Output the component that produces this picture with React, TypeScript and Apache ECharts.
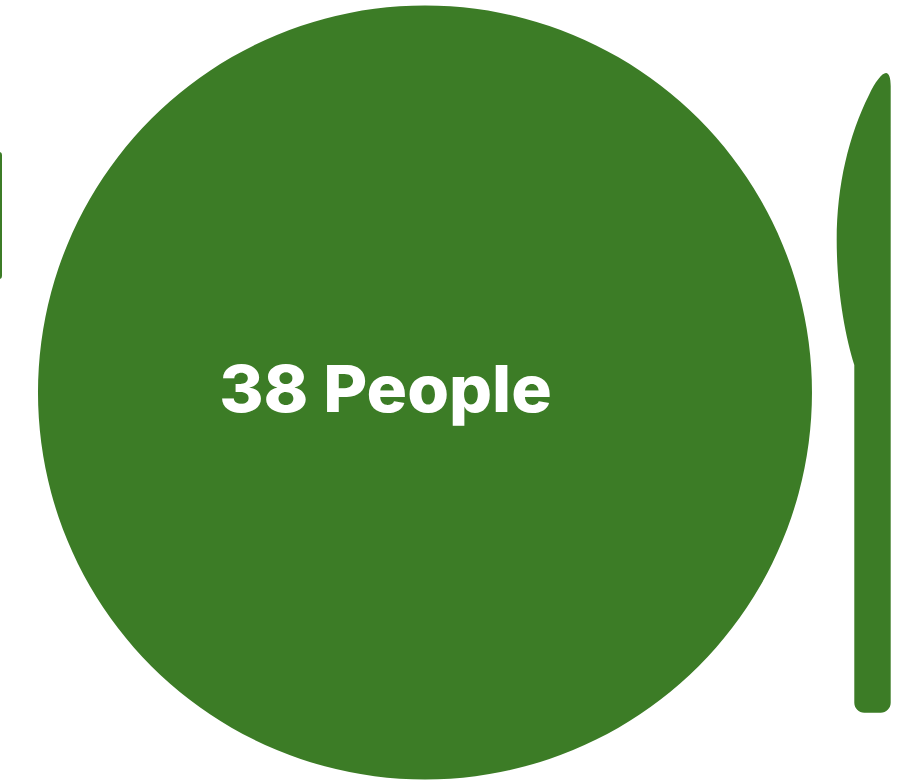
import React, { useEffect, useRef } from "react";
import * as echarts from "echarts";

const labels = ["People"];
const values = [38];
const GREEN = "#3c7c26";

const KNIFE =
  "M890.7 86 C890.7 78 889 73 886 73 C882 73 875 82 869 95 C849 135 836.7 185 836.7 240 C836.7 290 845 335 854.3 365 L854.3 702.7 C854.3 708.2 858.8 712.7 864.3 712.7 L880.7 712.7 C886.2 712.7 890.7 708.2 890.7 702.7 Z";

echarts.graphic.registerShape("knife", echarts.graphic.extendPath(KNIFE, {}));

export default function App() {
  const ref = useRef<HTMLDivElement>(null);
  useEffect(() => {
    if (!ref.current) return;
    const chart = echarts.init(ref.current, undefined, { renderer: "svg" });
    chart.setOption({
      animation: false,
      backgroundColor: "#ffffff",
      series: [
        {
          type: "pie",
          center: [425, 392.5],
          radius: [0, 387],
          silent: true,
          label: { show: false },
          labelLine: { show: false },
          itemStyle: { color: GREEN },
          data: labels.map((name, i) => ({ name, value: values[i] })),
        },
      ],
      graphic: {
        elements: [
          {
            type: "rect",
            z: 10,
            shape: { x: -12, y: 152, width: 14, height: 127, r: 3 },
            style: { fill: GREEN },
          },
          { type: "knife", z: 10, x: 0, y: 0, scaleX: 1, scaleY: 1, style: { fill: GREEN } },
          {
            type: "text",
            z: 20,
            zlevel: 1,
            x: 385.5,
            y: 388,
            scaleX: 1.04,
            style: {
              text: `${values[0]} ${labels[0]}`,
              fill: "#ffffff",
              font: '800 65px Inter, "Noto Sans", sans-serif',
              textAlign: "center",
              textVerticalAlign: "middle",
            },
          },
        ],
      },
    });
    return () => chart.dispose();
  }, []);
  return <div ref={ref} style={{ position: "absolute", left: 0, top: 0, width: 913, height: 781 }} />;
}
